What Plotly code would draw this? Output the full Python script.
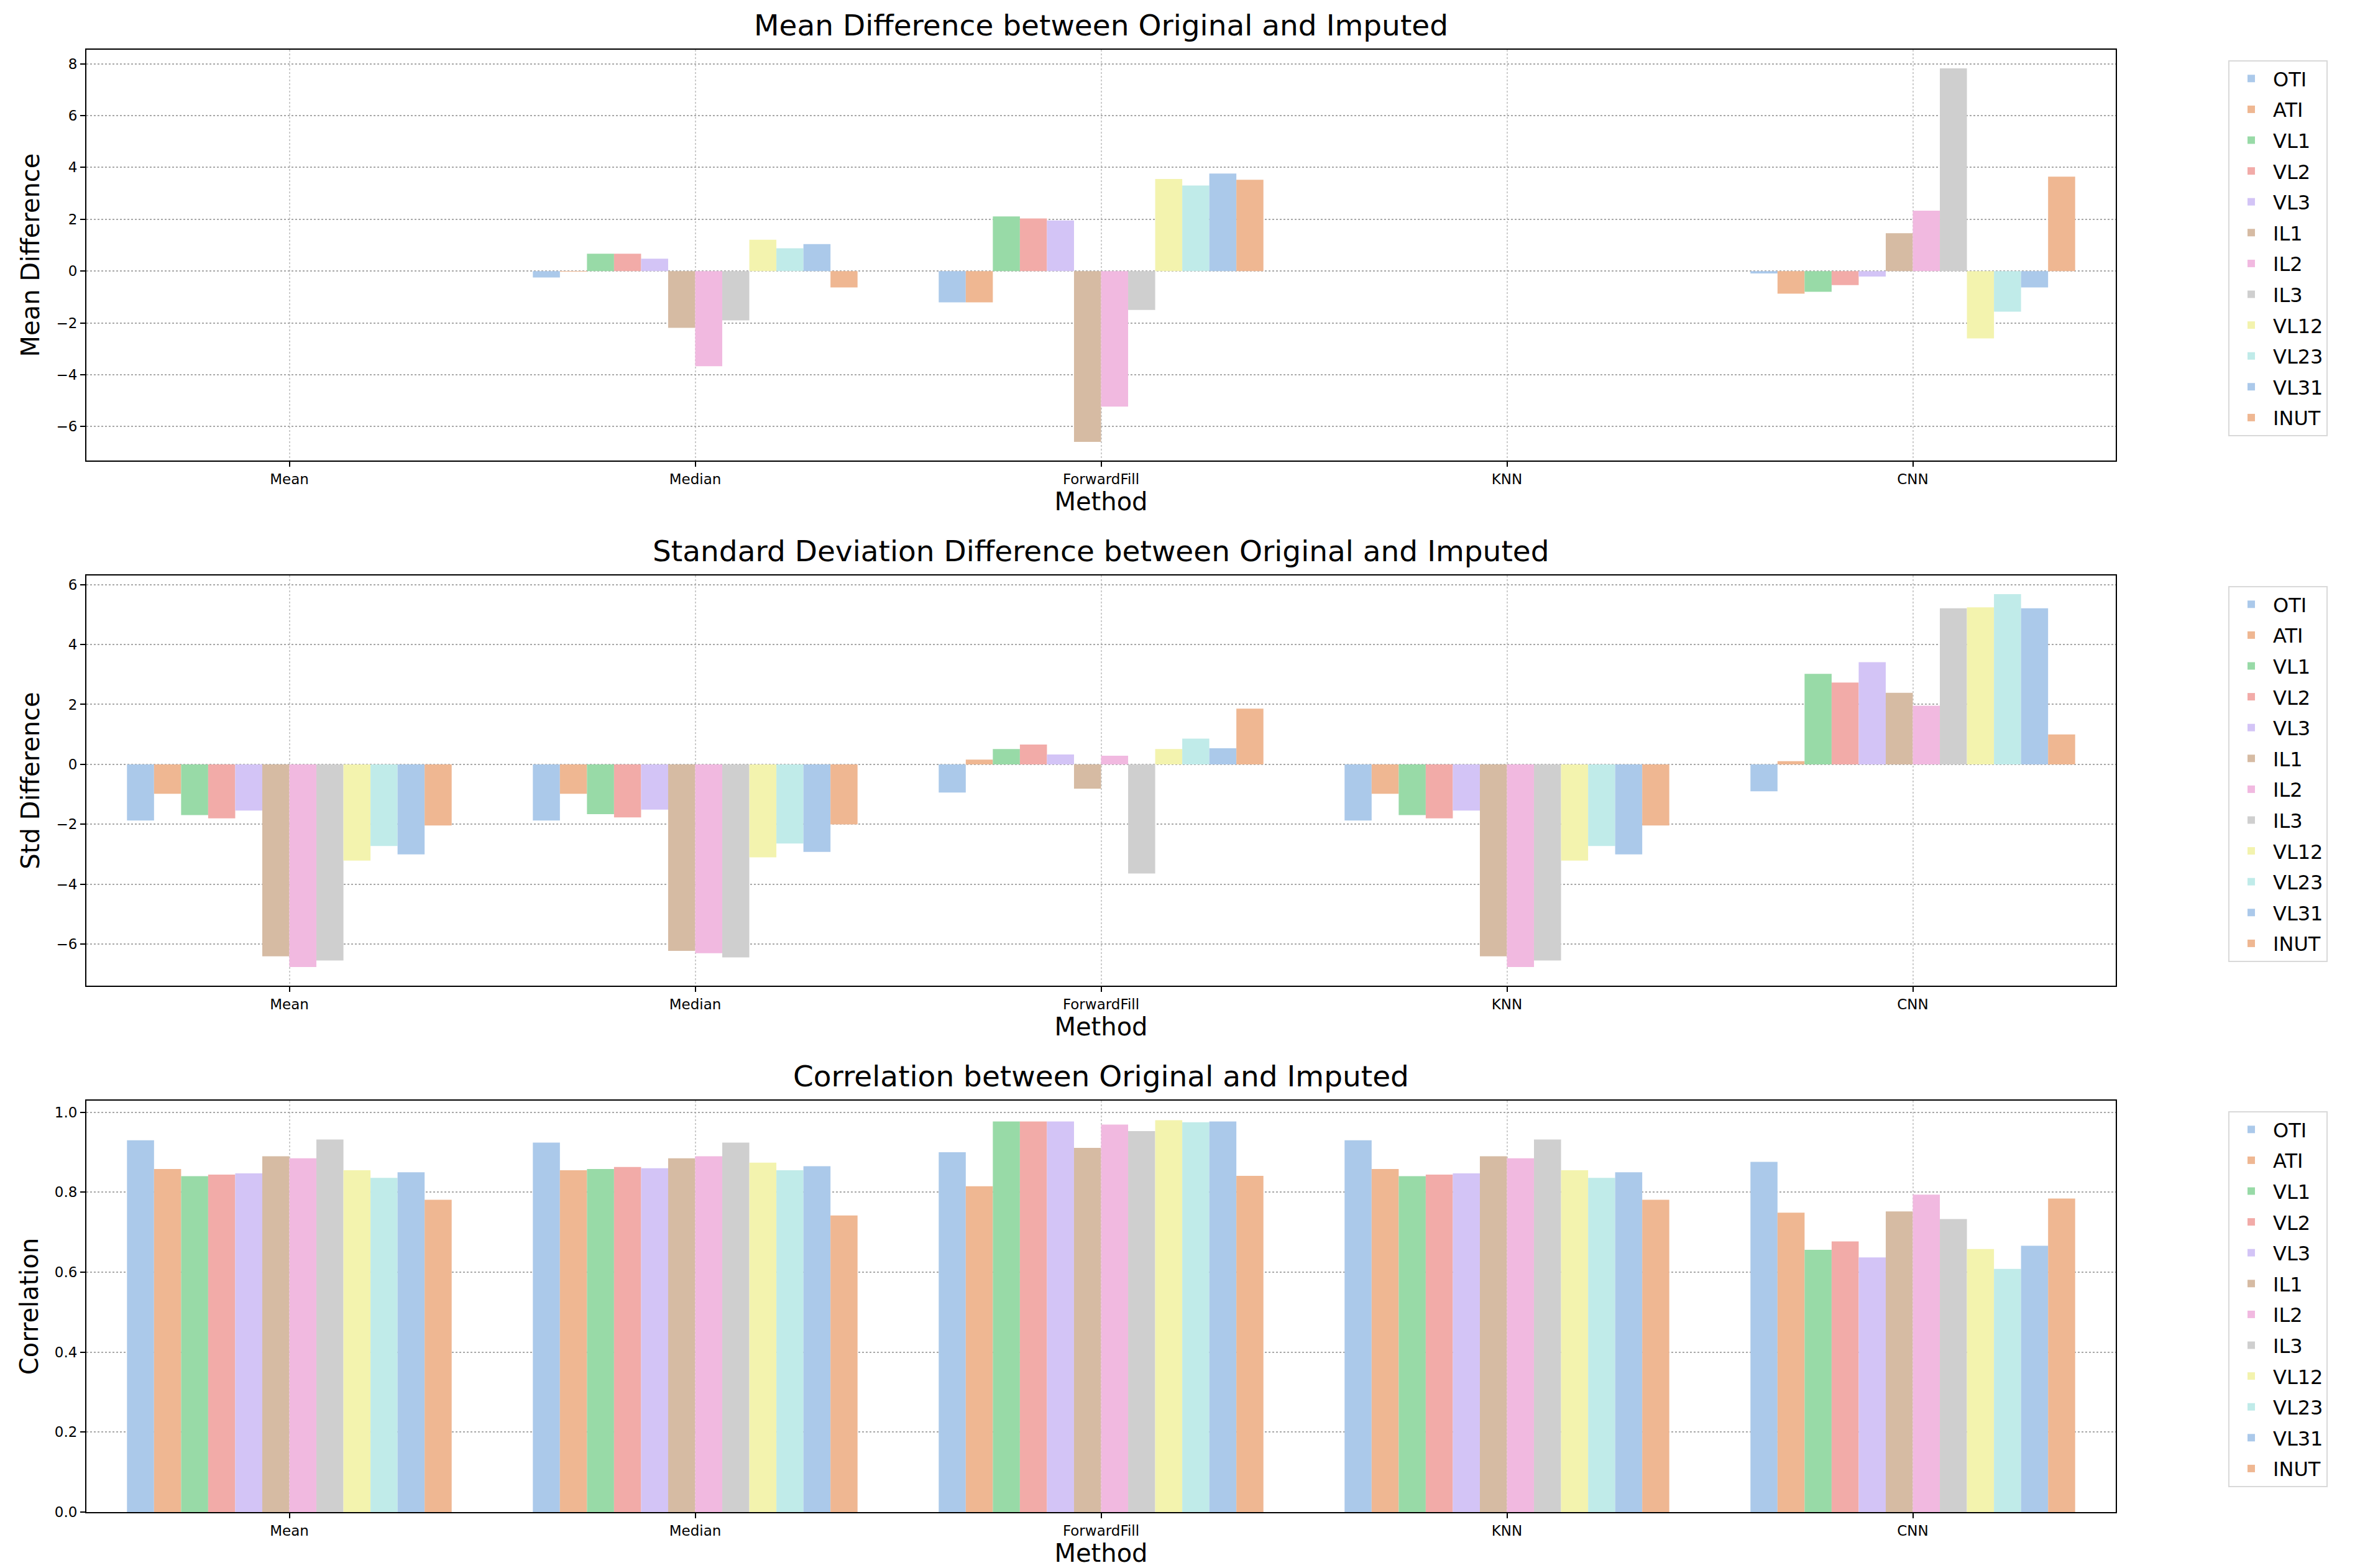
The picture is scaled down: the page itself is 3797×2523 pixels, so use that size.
import colorsys
import numpy as np
import plotly.graph_objects as go
from plotly.subplots import make_subplots

methods = ["Mean", "Median", "ForwardFill", "KNN", "CNN"]
groups = ["OTI", "ATI", "VL1", "VL2", "VL3", "IL1", "IL2", "IL3", "VL12", "VL23", "VL31", "INUT"]

# rows = methods, columns = groups
mean_diff = [
    [0, 0, 0, 0, 0, 0, 0, 0, 0, 0, 0, 0],
    [-0.25, -0.02, 0.67, 0.67, 0.48, -2.19, -3.67, -1.90, 1.21, 0.88, 1.04, -0.63],
    [-1.21, -1.21, 2.11, 2.03, 1.95, -6.59, -5.23, -1.50, 3.55, 3.30, 3.76, 3.52],
    [0, 0, 0, 0, 0, 0, 0, 0, 0, 0, 0, 0],
    [-0.09, -0.87, -0.80, -0.54, -0.21, 1.46, 2.33, 7.82, -2.60, -1.57, -0.63, 3.64],
]
std_diff = [
    [-1.87, -0.98, -1.69, -1.80, -1.54, -6.40, -6.76, -6.54, -3.21, -2.72, -3.00, -2.04],
    [-1.87, -0.98, -1.66, -1.77, -1.51, -6.22, -6.30, -6.44, -3.10, -2.64, -2.92, -2.00],
    [-0.94, 0.16, 0.51, 0.66, 0.33, -0.81, 0.29, -3.64, 0.51, 0.86, 0.54, 1.86],
    [-1.87, -0.98, -1.69, -1.80, -1.54, -6.40, -6.76, -6.54, -3.21, -2.72, -3.00, -2.04],
    [-0.90, 0.11, 3.02, 2.73, 3.41, 2.39, 1.96, 5.21, 5.24, 5.68, 5.21, 1.00],
]
correlation = [
    [0.930, 0.858, 0.840, 0.844, 0.847, 0.890, 0.885, 0.932, 0.855, 0.836, 0.850, 0.781],
    [0.924, 0.855, 0.858, 0.863, 0.860, 0.885, 0.890, 0.924, 0.874, 0.855, 0.865, 0.742],
    [0.900, 0.815, 0.977, 0.977, 0.977, 0.911, 0.969, 0.953, 0.980, 0.975, 0.977, 0.841],
    [0.930, 0.858, 0.840, 0.844, 0.847, 0.890, 0.885, 0.932, 0.855, 0.836, 0.850, 0.781],
    [0.876, 0.749, 0.656, 0.677, 0.637, 0.752, 0.794, 0.733, 0.658, 0.608, 0.666, 0.784],
]

pastel = ["#a1c9f4", "#ffb482", "#8de5a1", "#ff9f9b", "#d0bbff",
          "#debb9b", "#fab0e4", "#cfcfcf", "#fffea3", "#b9f2f0"]


def desaturate(hex_color, prop=0.75):
    # same as seaborn's barplot saturation
    r, g, b = (int(hex_color[i:i + 2], 16) / 255 for i in (1, 3, 5))
    h, l, s = colorsys.rgb_to_hls(r, g, b)
    r, g, b = colorsys.hls_to_rgb(h, l, s * prop)
    return "rgb(%d,%d,%d)" % (round(r * 255), round(g * 255), round(b * 255))


colors = [desaturate(pastel[i % len(pastel)]) for i in range(len(groups))]

W, H = 3797, 2523
x_dom = [131 / W, 3396 / W]
y_doms = [[1 - 733 / H, 1 - 72 / H], [1 - 1578 / H, 1 - 918 / H], [1 - 2425 / H, 1 - 1763 / H]]

panels = [
    (mean_diff, "Mean Difference between Original and Imputed", "Mean Difference"),
    (std_diff, "Standard Deviation Difference between Original and Imputed", "Std Difference"),
    (correlation, "Correlation between Original and Imputed", "Correlation"),
]

FONT = "DejaVu Sans"

fig = make_subplots(rows=3, cols=1)

for p, (data, title, ylabel) in enumerate(panels):
    arr = np.array(data)
    legend_name = "legend" if p == 0 else "legend%d" % (p + 1)
    for g, name in enumerate(groups):
        fig.add_trace(
            go.Bar(
                x=methods,
                y=arr[:, g],
                name=name,
                marker=dict(color=colors[g], line=dict(width=0)),
                legend=legend_name,
                legendgroup="%s_%d" % (name, p),
            ),
            row=p + 1, col=1
        )

    # matplotlib-style 5% margins (sticky at 0 for all-positive bars)
    lo, hi = min(arr.min(), 0), max(arr.max(), 0)
    pad = 0.05 * (hi - lo)
    y_range = [lo - pad if lo < 0 else 0, hi + pad]

    ax = "" if p == 0 else str(p + 1)
    fig.layout["xaxis" + ax].update(
        domain=x_dom, range=[-0.5, 4.5],
        showline=True, linecolor="black", linewidth=2, mirror=True,
        ticks="outside", ticklen=8, tickwidth=2, tickcolor="black",
        tickfont=dict(family=FONT, size=23, color="black"),
        showgrid=True, gridcolor="#cccccc", gridwidth=1.5, griddash="dot",
        title=dict(text="Method", font=dict(family=FONT, size=40, color="black"), standoff=4),
        automargin=False, zeroline=False,
    )
    fig.layout["yaxis" + ax].update(
        domain=y_doms[p], range=y_range,
        showline=True, linecolor="black", linewidth=2, mirror=True,
        ticks="outside", ticklen=8, tickwidth=2, tickcolor="black",
        tickfont=dict(family=FONT, size=23, color="black"),
        showgrid=True, gridcolor="#a8a8a8", gridwidth=1.5, griddash="dot",
        dtick=0.2 if p == 2 else 2, tickformat=".1f" if p == 2 else "d",
        title=dict(text=ylabel, font=dict(family=FONT, size=40, color="black"), standoff=14),
        automargin=False, zeroline=False,
    )

    fig.add_annotation(
        text=title, xref="paper", yref="paper",
        x=(x_dom[0] + x_dom[1]) / 2, y=y_doms[p][1],
        xanchor="center", yanchor="bottom", yshift=10, showarrow=False,
        font=dict(family=FONT, size=47, color="black"),
    )

    fig.layout[legend_name] = dict(
        x=3577 / W, y=y_doms[p][1] - 17 / H, xanchor="left", yanchor="top",
        bordercolor="#d9d9d9", borderwidth=2, bgcolor="white",
        font=dict(family=FONT, size=32, color="black"),
        itemwidth=60, tracegroupgap=5,
    )

fig.update_layout(
    width=W, height=H,
    margin=dict(l=0, r=0, t=0, b=0),
    plot_bgcolor="white", paper_bgcolor="white",
    barmode="group", bargap=0.2, bargroupgap=0,
    font=dict(family=FONT, color="black"),
)

fig.write_html("out.html")
